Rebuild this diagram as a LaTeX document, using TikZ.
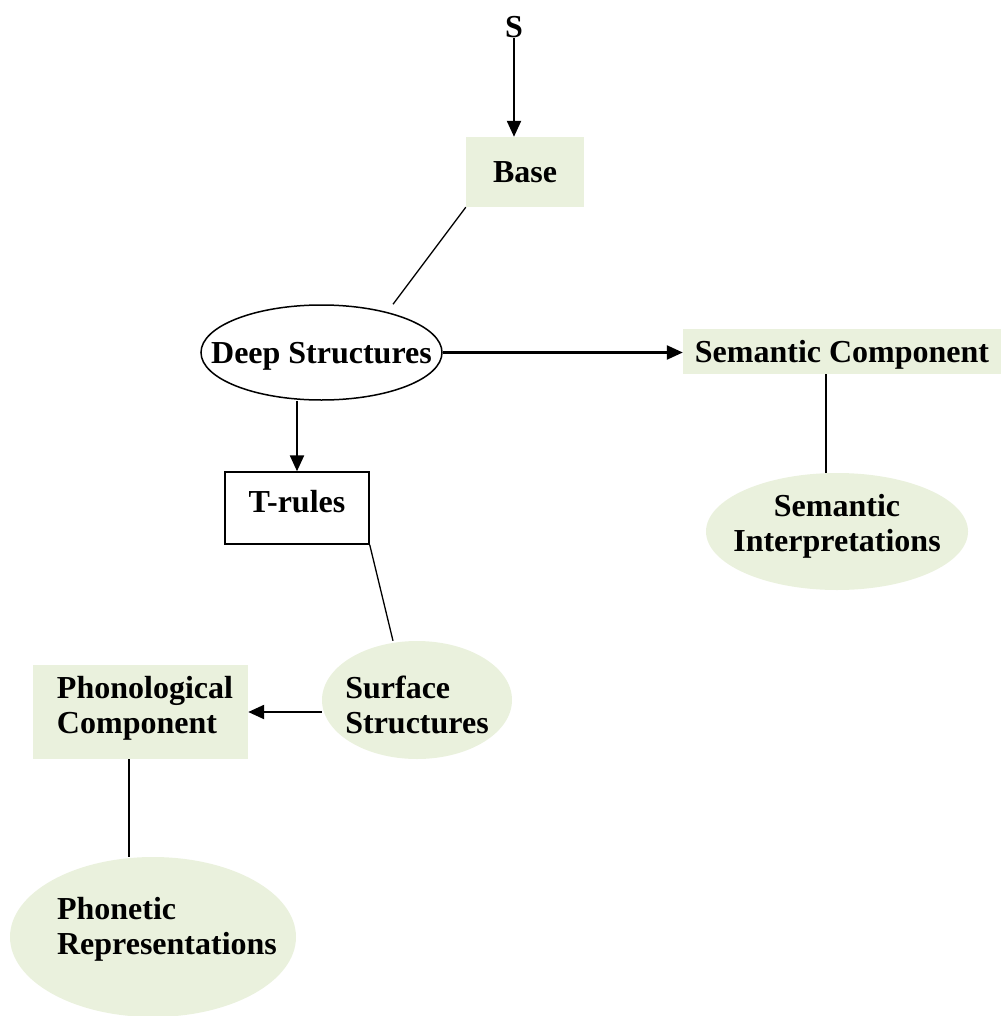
\documentclass[tikz,border=0pt]{standalone}
\usepackage{fontspec}
\setmainfont{Liberation Serif}
\usetikzlibrary{shapes.geometric, arrows.meta, positioning, calc}
\definecolor{boxGreen}{HTML}{EAF1DD}
% two lines of text, zero size, raised by the optional argument
\newcommand{\nodelines}[4][-8pt]{\makebox[0pt]{\raisebox{#1}[0pt][0pt]{\begin{tabular}{@{}#2@{}}#3\\#4\end{tabular}}}}

\begin{document}
\begin{tikzpicture}[x=1pt, y=-1pt,
    every node/.style={font=\fontsize{32}{35}\selectfont\bfseries, inner sep=0pt},
    greenbox/.style={rectangle, fill=boxGreen},
    greenoval/.style={ellipse, fill=boxGreen},
    plainoval/.style={ellipse, draw, line width=1.5pt},
    plainbox/.style={rectangle, draw, line width=1.4pt},
    link/.style={line width=1.3pt},
    flow/.style={line width=2.3pt, -{Triangle[length=16pt, width=14pt]}}
  ]
    \useasboundingbox (0,0) rectangle (1004,1016);

    % Top
    \node (S) at (514,27) {S};
    \node[greenbox, minimum width=118pt, minimum height=70pt] (Base) at (525,172) {Base};
    \node[plainoval, minimum width=241pt, minimum height=95pt, text depth=0pt] (Deep) at (321.5,352.5) {\makebox[0pt]{Deep Structures}};

    % Semantic side
    \node[greenbox, minimum width=318pt, minimum height=45pt, text depth=0pt] (SemComp) at (842,351.5) {Semantic Component};
    \node[greenoval, minimum width=262pt, minimum height=117pt] (SemInt) at (837,531.5) {\nodelines[-2pt]{c}{Semantic}{Interpretations}};

    % Transformations
    \node[plainbox, minimum width=144pt, minimum height=72pt, text depth=14pt] (Trules) at (297,508) {T-rules};
    \node[greenoval, minimum width=190pt, minimum height=118pt] (Surf) at (417,700) {\nodelines[-15.5pt]{l}{Surface}{Structures}};

    % Phonological side
    \node[greenbox, minimum width=215pt, minimum height=94pt] (Phon) at (140.5,712) {\hspace{9pt}\nodelines[-3.5pt]{l}{Phonological}{Component}};
    \node[greenoval, minimum width=286pt, minimum height=160pt] (Phonetic) at (153,937) {\hspace{28pt}\nodelines[0.5pt]{l}{Phonetic}{Representations}};

    % Connectors
    \draw[flow] (S) -- (S |- Base.north);
    \draw[link] (Base.south west) -- ([xshift=71.5pt]Deep.north);
    \draw[flow] (Deep.east) -- (Deep.east -| SemComp.west);
    \draw[link] ([xshift=-16pt]SemComp.south) -- ([xshift=-16pt]SemComp.south |- SemInt.north);
    \draw[flow] (Trules.north |- Deep.south) -- (Trules.north);
    \draw[link] (Trules.south east) -- ([xshift=-24pt]Surf.north);
    \draw[flow] (Surf.west |- Phon.east) -- (Phon.east);
    \draw[link] ([xshift=-11.5pt]Phon.south) -- ([xshift=-11.5pt]Phon.south |- Phonetic.north);

\end{tikzpicture}
\end{document}
